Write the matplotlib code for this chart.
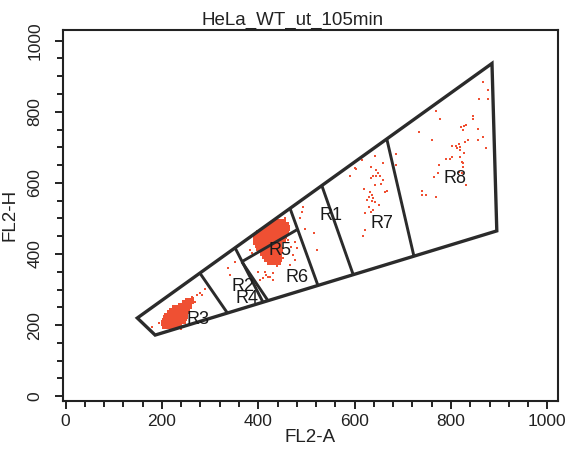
import matplotlib
matplotlib.use("Agg")
import matplotlib.pyplot as plt
from matplotlib.ticker import MultipleLocator

plt.rcParams['font.family'] = ['Liberation Sans', 'DejaVu Sans']

# ---------------- data ----------------
title = "HeLa_WT_ut_105min"
xlabel = "FL2-A"
ylabel = "FL2-H"

# outer gate polygon (FL2-A, FL2-H)
outer_x = [149, 186, 895, 885]
outer_y = [220, 172, 465, 936]

# divider segments inside the gate: (x0, y0, x1, y1)
div_x0 = [279, 352, 366, 368, 466, 532, 667]
div_y0 = [346, 417, 378, 380, 528, 592, 722]
div_x1 = [336, 410, 421, 480, 524, 597, 723]
div_y1 = [234, 264, 267, 468, 311, 342, 394]

# region labels
reg_names = ["R3", "R2", "R4", "R5", "R6", "R1", "R7", "R8"]
reg_x = [274, 369, 376, 445, 480, 550, 656, 808]
reg_y = [217, 308, 275, 409, 334, 509, 486, 611]

# dense clusters, listed row by row (FL2-H of row, FL2-A of events in row)
r3_rows_y = [198, 205, 212, 219, 226, 233, 240, 247, 254, 261, 268]
r3_rows_x = [
    [206, 214, 222, 230],
    [204, 212, 220, 228, 236],
    [206, 214, 222, 230, 238, 244],
    [208, 216, 224, 232, 240, 246],
    [210, 218, 226, 234, 242, 248],
    [216, 224, 232, 240, 248],
    [222, 230, 238, 246, 252],
    [228, 236, 244, 252],
    [240, 248, 256],
    [248, 256],
    [254, 260],
]
r5_rows_y = [490, 482, 474, 466, 458, 450, 442, 434, 426, 418, 410, 402, 394, 386, 378]
r5_rows_x = [
    [436, 444, 452],
    [428, 436, 444, 452, 458],
    [420, 428, 436, 444, 452, 460],
    [410, 418, 426, 434, 442, 450, 458],
    [402, 410, 418, 426, 434, 442, 450, 458],
    [398, 406, 414, 422, 430, 438, 446, 454],
    [396, 404, 412, 420, 428, 436, 444, 452],
    [396, 404, 412, 420, 428, 436, 444],
    [400, 408, 416, 424, 432, 440],
    [402, 410, 418, 426, 434, 442],
    [406, 414, 422, 430, 438, 446],
    [410, 418, 426, 434, 442],
    [414, 422, 430, 438],
    [418, 426, 434, 442],
    [424, 432, 440],
]

# sparse events
r3_x = [264, 273, 280, 284, 289, 269, 255, 193, 200, 207, 179, 262, 240]
r3_y = [275, 285, 291, 285, 301, 266, 256, 205, 206, 214, 195, 280, 190]
r2_x = [337, 352, 341, 390, 397]
r2_y = [360, 378, 341, 327, 313]
r56_x = [414, 417, 424, 410, 431, 399, 420, 431, 403, 439, 466, 452, 400, 476, 480, 473,
         476, 445, 383, 387, 462, 392, 455, 468]
r56_y = [350, 341, 336, 332, 346, 349, 335, 327, 327, 366, 369, 389, 350, 435, 416, 397,
         383, 374, 411, 402, 440, 430, 500, 420]
r1_x = [492, 490, 487, 497, 515, 522]
r1_y = [532, 519, 501, 470, 458, 411]
r7_x = [642, 658, 615, 602, 634, 644, 648, 645, 639, 652, 634, 659, 654, 642, 620, 632,
        636, 629, 639, 667, 662, 625, 636, 642, 651, 629, 638, 634, 622, 622, 618, 590,
        601, 615]
r7_y = [676, 655, 663, 638, 644, 635, 629, 620, 618, 618, 613, 608, 597, 594, 582, 573,
        566, 561, 557, 578, 573, 552, 550, 547, 538, 533, 524, 519, 516, 468, 451, 620,
        642, 665]
r8_x = [867, 876, 876, 858, 769, 778, 845, 845, 832, 827, 821, 855, 825, 734, 867, 855,
        836, 829, 760, 802, 811, 816, 819, 812, 818, 827, 873, 790, 802, 798, 819, 822,
        825, 776, 825, 816, 822, 765, 773, 832, 739, 739, 748, 769, 686, 686]
r8_y = [885, 860, 836, 836, 801, 780, 787, 780, 763, 759, 756, 751, 749, 742, 728, 721,
        721, 716, 721, 704, 704, 709, 700, 698, 693, 685, 698, 668, 674, 666, 672, 660,
        655, 650, 644, 632, 627, 616, 627, 594, 578, 566, 566, 559, 682, 651]

# ---------------- plot ----------------
W, H = 567, 453
fig = plt.figure(figsize=(W / 100, H / 100), dpi=100)
ax = fig.add_axes([63 / W, (H - 400.5) / H, 495 / W, 370.5 / H])

dot_color = '#ef5033'
line_color = '#2b2b2b'

for rows_y, rows_x in [(r3_rows_y, r3_rows_x), (r5_rows_y, r5_rows_x)]:
    bx = [x for ry, xs in zip(rows_y, rows_x) for x in xs]
    by = [ry for ry, xs in zip(rows_y, rows_x) for x in xs]
    ax.scatter(bx, by, s=16, marker='s', color=dot_color, linewidths=0, zorder=2)
for sx, sy in [(r3_x, r3_y), (r2_x, r2_y), (r56_x, r56_y), (r1_x, r1_y), (r7_x, r7_y), (r8_x, r8_y)]:
    ax.scatter(sx, sy, s=4.5, marker='s', color=dot_color, linewidths=0, zorder=2)

ax.fill(outer_x, outer_y, fill=False, edgecolor=line_color, linewidth=2.4,
        joinstyle='miter', zorder=3)
for x0, y0, x1, y1 in zip(div_x0, div_y0, div_x1, div_y1):
    ax.plot([x0, x1], [y0, y1], color=line_color, linewidth=2.1,
            solid_capstyle='butt', zorder=3)

for name, rx, ry in zip(reg_names, reg_x, reg_y):
    ax.text(rx, ry, name, fontsize=13, ha='center', va='center', color='#1a1a1a', zorder=4)

ax.set_xlim(-5.2, 1022)
ax.set_ylim(-12, 1030)

ax.xaxis.set_major_locator(MultipleLocator(200))
ax.xaxis.set_minor_locator(MultipleLocator(40))
ax.yaxis.set_major_locator(MultipleLocator(200))
ax.yaxis.set_minor_locator(MultipleLocator(50))

ax.tick_params(which='major', direction='out', length=6, width=1.4, color='#222222',
               labelsize=12.5, labelcolor='#222222')
ax.tick_params(which='minor', direction='out', length=4, width=1.4, color='#222222')
ax.tick_params(axis='x', which='major', pad=4)
ax.tick_params(axis='y', which='major', pad=9)
for lbl in ax.get_yticklabels():
    lbl.set_rotation(90)
    lbl.set_va('center')

for sp in ax.spines.values():
    sp.set_linewidth(1.5)
    sp.set_color('#222222')

ax.set_xlabel(xlabel, fontsize=13.5, color='#222222', labelpad=0)
ax.set_ylabel(ylabel, fontsize=13.5, color='#222222', labelpad=6)

fig.text(293 / W, 1 - 25 / H, title, fontsize=13.5, ha='center', va='baseline', color='#222222')

fig.savefig('out.png', dpi=100, facecolor='white')
